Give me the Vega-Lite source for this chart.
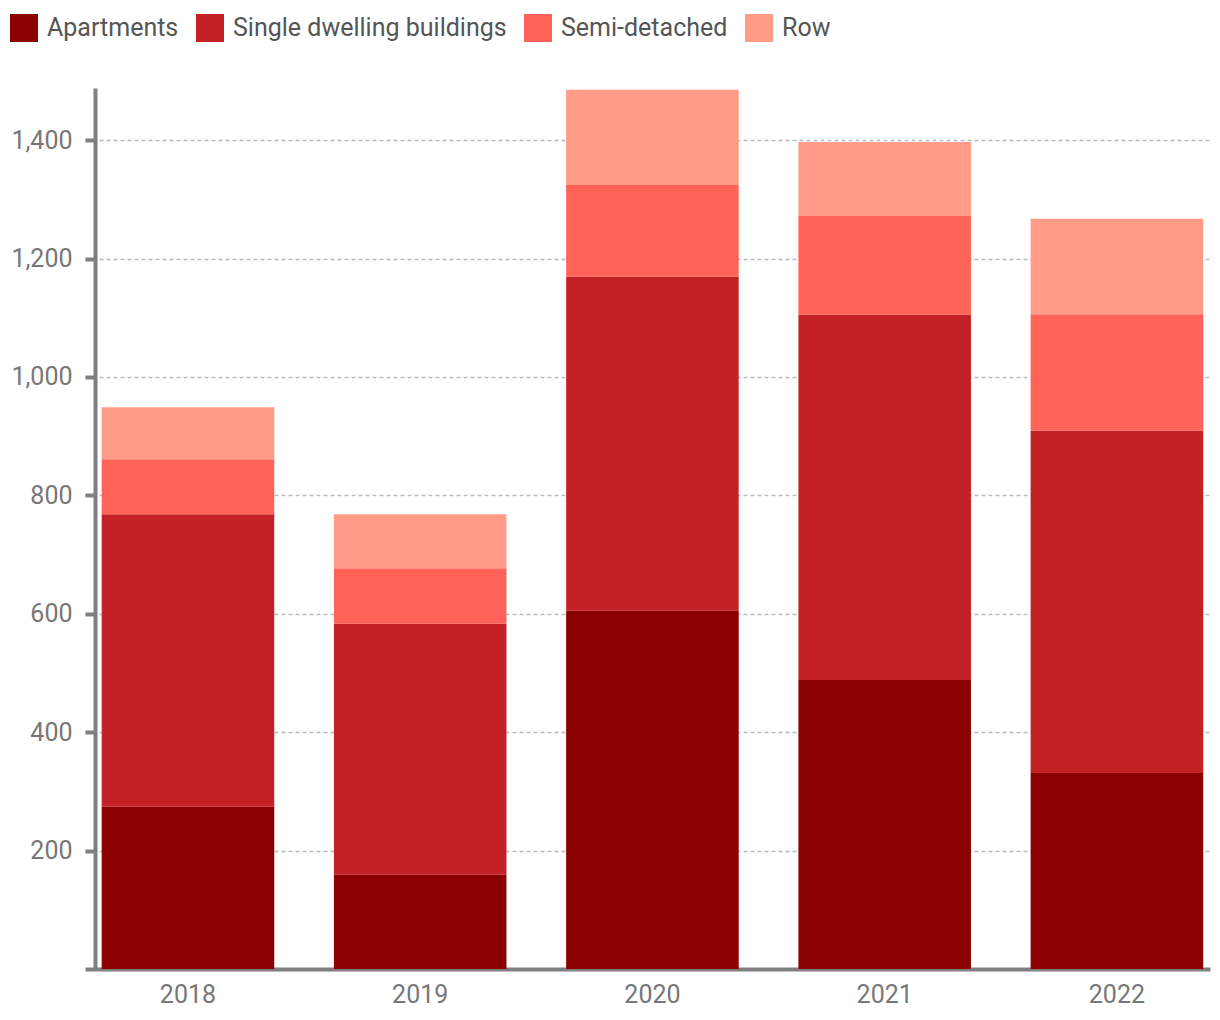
{
  "$schema": "https://vega.github.io/schema/vega-lite/v6.json",
  "autosize": "none",
  "width": 1125,
  "height": 881,
  "padding": {"left": 85, "top": 88, "right": 10, "bottom": 51},
  "background": "white",
  "data": {"values": [
    {"year": "2018", "type": "Apartments", "order": 1, "value": 274},
    {"year": "2018", "type": "Single dwelling buildings", "order": 2, "value": 494},
    {"year": "2018", "type": "Semi-detached", "order": 3, "value": 93},
    {"year": "2018", "type": "Row", "order": 4, "value": 88},
    {"year": "2019", "type": "Apartments", "order": 1, "value": 159},
    {"year": "2019", "type": "Single dwelling buildings", "order": 2, "value": 424},
    {"year": "2019", "type": "Semi-detached", "order": 3, "value": 94},
    {"year": "2019", "type": "Row", "order": 4, "value": 91},
    {"year": "2020", "type": "Apartments", "order": 1, "value": 605},
    {"year": "2020", "type": "Single dwelling buildings", "order": 2, "value": 564},
    {"year": "2020", "type": "Semi-detached", "order": 3, "value": 155},
    {"year": "2020", "type": "Row", "order": 4, "value": 161},
    {"year": "2021", "type": "Apartments", "order": 1, "value": 488},
    {"year": "2021", "type": "Single dwelling buildings", "order": 2, "value": 617},
    {"year": "2021", "type": "Semi-detached", "order": 3, "value": 167},
    {"year": "2021", "type": "Row", "order": 4, "value": 125},
    {"year": "2022", "type": "Apartments", "order": 1, "value": 331},
    {"year": "2022", "type": "Single dwelling buildings", "order": 2, "value": 578},
    {"year": "2022", "type": "Semi-detached", "order": 3, "value": 197},
    {"year": "2022", "type": "Row", "order": 4, "value": 161}
  ]},
  "mark": {"type": "bar"},
  "encoding": {
    "x": {
      "field": "year", "type": "ordinal",
      "scale": {"paddingInner": 0.257, "paddingOuter": 0.0506, "align": 0.71},
      "axis": {
        "title": null, "labelAngle": 0, "ticks": false,
        "domainColor": "#7f7f7f", "domainWidth": 4,
        "labelFont": "Roboto", "labelFontSize": 25, "labelColor": "#777777",
        "labelPadding": 13, "grid": false
      }
    },
    "y": {
      "field": "value", "type": "quantitative", "aggregate": "sum", "stack": "zero",
      "scale": {"domain": [0, 1488], "nice": false, "zero": true},
      "axis": {
        "title": null, "values": [200, 400, 600, 800, 1000, 1200, 1400],
        "format": ",.0f", "offset": -10,
        "domainColor": "#7f7f7f", "domainWidth": 4,
        "tickColor": "#7f7f7f", "tickWidth": 4, "tickSize": 10,
        "labelFont": "Roboto", "labelFontSize": 25, "labelColor": "#777777",
        "labelPadding": 13,
        "grid": true, "gridColor": "#b4bdc4", "gridDash": [4, 3], "gridWidth": 1.5
      }
    },
    "color": {
      "field": "type", "type": "nominal",
      "scale": {
        "domain": ["Apartments", "Single dwelling buildings", "Semi-detached", "Row"],
        "range": ["#8B0000", "#C42127", "#FF6257", "#FF9B86"]
      },
      "legend": {
        "title": null, "orient": "none", "direction": "horizontal",
        "legendX": -75, "legendY": -74,
        "symbolType": "square", "symbolSize": 784, "symbolStrokeWidth": 0, "symbolOpacity": 1,
        "labelFont": "Roboto", "labelFontSize": 25, "labelColor": "#555555",
        "labelOffset": 9, "columnPadding": 17, "padding": 0, "labelLimit": 500
      }
    },
    "order": {"field": "order", "type": "quantitative"}
  },
  "config": {"view": {"stroke": null}}
}
